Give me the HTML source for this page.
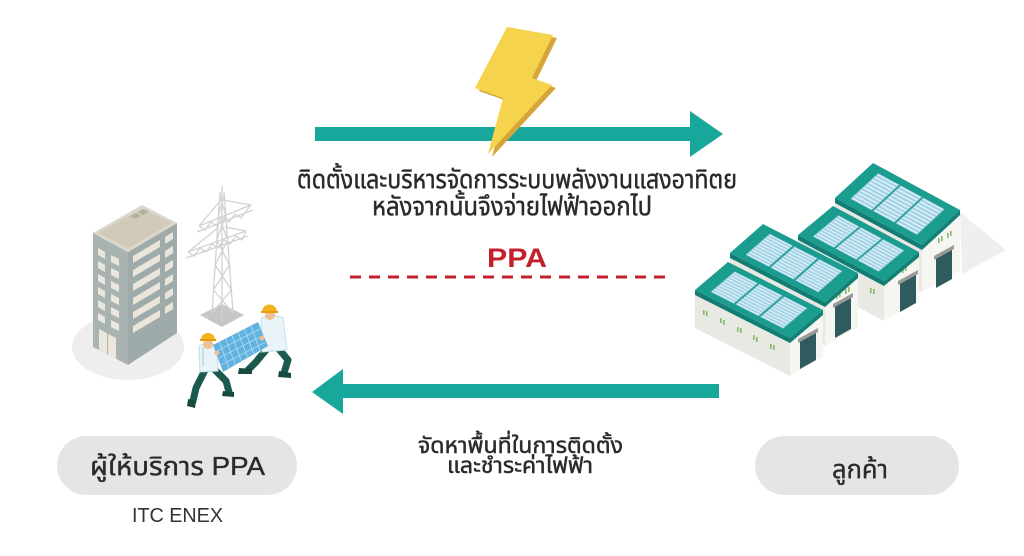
<!DOCTYPE html>
<html>
<head>
<meta charset="utf-8">
<style>
  html,body{margin:0;padding:0;background:#fff;}
  svg{display:block;}
  .th{font-family:"Liberation Sans","Noto Sans Thai","Noto Sans Thai Looped","Loma","Garuda","Waree","Tlwg Typo","DejaVu Sans",sans-serif;fill:#2a2a2a;stroke:#2a2a2a;stroke-width:0.45;}
  .thb{stroke-width:0.35;}
  .lat{font-family:"Liberation Sans",sans-serif;}
</style>
</head>
<body>
<svg width="1024" height="556" viewBox="0 0 1024 556" xmlns="http://www.w3.org/2000/svg">
  <defs>
    <pattern id="pv" patternUnits="userSpaceOnUse" width="1" height="0.075">
      <rect width="1" height="0.075" fill="#a3d3e5"/>
      <rect width="1" height="0.028" fill="#e2f3f9"/>
    </pattern>
  </defs>
  <rect width="1024" height="556" fill="#ffffff"/>

  <!-- ===== TOP ARROW ===== -->
  <rect x="315" y="127" width="377" height="14" fill="#17a89b"/>
  <polygon points="690,111 723,134 690,157" fill="#17a89b"/>

  <!-- Lightning bolt -->
  <polygon points="511,30 557,38 536,81 556,88 492,157 507,101 479,91" fill="#d6a43a"/>
  <polygon points="507,27 553,35 532,78 552,85 488,154 503,98 475,88" fill="#f6d34c"/>

  <!-- Top text -->
  <text class="th" x="297" y="188" font-size="26" textLength="440" lengthAdjust="spacingAndGlyphs">ติดตั้งและบริหารจัดการระบบพลังงานแสงอาทิตย</text>
  <text class="th" x="372" y="215" font-size="26" textLength="280" lengthAdjust="spacingAndGlyphs">หลังจากนั้นจึงจ่ายไฟฟ้าออกไป</text>

  <!-- PPA + dashed -->
  <text class="lat" x="487" y="267" font-size="27" font-weight="bold" fill="#c3202e" textLength="60" lengthAdjust="spacingAndGlyphs">PPA</text>
  <line x1="350" y1="277" x2="672" y2="277" stroke="#c3202e" stroke-width="3" stroke-dasharray="11 8"/>

  <!-- ===== BOTTOM ARROW ===== -->
  <rect x="341" y="384" width="378" height="14" fill="#17a89b"/>
  <polygon points="343,369 312,392 343,414" fill="#17a89b"/>

  <!-- Bottom text -->
  <text class="th" x="418" y="453" font-size="22" textLength="205" lengthAdjust="spacingAndGlyphs">จัดหาพื้นที่ในการติดตั้ง</text>
  <text class="th" x="447" y="473" font-size="22" textLength="146" lengthAdjust="spacingAndGlyphs">และชำระค่าไฟฟ้า</text>

  <!-- Pills -->
  <rect x="57" y="436" width="240" height="59" rx="29.5" fill="#e5e5e5"/>
  <text class="th thb" x="90" y="475" font-size="26" textLength="175" lengthAdjust="spacingAndGlyphs">ผู้ให้บริการ PPA</text>
  <text class="lat" x="132" y="522" font-size="20" fill="#333" textLength="91" lengthAdjust="spacingAndGlyphs">ITC ENEX</text>

  <rect x="755" y="436" width="204" height="59" rx="29.5" fill="#e5e5e5"/>
  <text class="th thb" x="832" y="478" font-size="26" textLength="56" lengthAdjust="spacingAndGlyphs">ลูกค้า</text>

  <!-- ===== LEFT ILLUSTRATION ===== -->
  <ellipse cx="128" cy="347" rx="56" ry="33" fill="#eeeeee"/>

  <!-- building -->
  <polygon points="93,233 128,252 128,365 93,347" fill="#a9b4b2"/>
  <polygon points="128,252 177,223 177,333 128,365" fill="#9fabaa"/>
  <polygon points="93,233 142,205 177,223 128,252" fill="#dcd6c9"/>
  <polygon points="98,233 142,209 172,223 128,248" fill="#d1cabb"/>
  <polygon points="130,216 136,213 141,216 135,219" fill="#b5afa2"/>
  <polygon points="138,212 144,209 149,212 143,215" fill="#b5afa2"/>
  <g fill="#ebe7dc">
    <polygon points="98,248 105,252 105,259 98,255"/>
    <polygon points="98,261 105,265 105,272 98,268"/>
    <polygon points="98,274 105,278 105,285 98,281"/>
    <polygon points="98,287 105,291 105,298 98,294"/>
    <polygon points="98,300 105,304 105,311 98,307"/>
    <polygon points="98,313 105,317 105,324 98,320"/>
    <polygon points="111,255 119,259 119,266 111,262"/>
    <polygon points="111,268 119,272 119,279 111,275"/>
    <polygon points="111,281 119,285 119,292 111,288"/>
    <polygon points="111,294 119,298 119,305 111,301"/>
    <polygon points="111,307 119,311 119,318 111,314"/>
    <polygon points="111,320 119,324 119,331 111,327"/>
    <polygon points="99,329 116,338 116,359 99,350"/>
  </g>
  <line x1="107.5" y1="333" x2="107.5" y2="354" stroke="#a9b4b2" stroke-width="1"/>
  <g fill="#e9e5da">
    <polygon points="133,256 160,240 160,247 133,263"/>
    <polygon points="133,270 160,254 160,261 133,277"/>
    <polygon points="133,284 160,268 160,275 133,291"/>
    <polygon points="133,298 160,282 160,289 133,305"/>
    <polygon points="133,312 160,296 160,303 133,319"/>
    <polygon points="133,326 160,310 160,317 133,333"/>
    <polygon points="165,237 173,232 173,239 165,244"/>
    <polygon points="165,251 173,246 173,253 165,258"/>
    <polygon points="165,265 173,260 173,267 165,272"/>
    <polygon points="165,279 173,274 173,281 165,286"/>
    <polygon points="165,293 173,288 173,295 165,300"/>
    <polygon points="165,307 173,302 173,309 165,314"/>
  </g>

  <!-- tower -->
  <polygon points="200,315 222,304 244,315 222,327" fill="#c6c6c6"/>
  <g stroke="#d2d2d2" stroke-width="1.3" fill="none">
    <line x1="212" y1="313" x2="220" y2="192"/>
    <line x1="233" y1="313" x2="224" y2="192"/>
    <line x1="222" y1="318" x2="222" y2="186"/>
    <polyline points="212,313 231.3,290 215.2,265 227.6,240 218.5,215 224.2,195"/>
    <polyline points="233,313 213.5,290 229.4,265 216.8,240 225.7,215 219.8,195"/>
    <line x1="197" y1="232" x2="253" y2="210"/>
    <line x1="199" y1="226" x2="251" y2="205"/>
    <polyline points="199,226 205,230 211,222 217,226 223,218 229,222 235,214 241,218 247,210 251,205"/>
    <line x1="221" y1="200" x2="199" y2="226"/>
    <line x1="223" y1="200" x2="251" y2="205"/>
    <line x1="186" y1="258" x2="248" y2="236"/>
    <line x1="188" y1="252" x2="246" y2="231"/>
    <polyline points="188,252 194,256 200,248 206,252 212,244 218,248 224,240 230,244 236,236 242,240 246,231"/>
    <line x1="219" y1="227" x2="188" y2="252"/>
    <line x1="225" y1="227" x2="246" y2="231"/>
  </g>

  <!-- worker 2 (right) -->
  <polyline points="266,350 256,362 248,370" stroke="#1c5a4d" stroke-width="7" fill="none" stroke-linecap="round" stroke-linejoin="round"/>
  <path d="M239,368 l13,1 l0,5 l-14,0z" fill="#174a40"/>
  <polyline points="278,348 288,360 284,373" stroke="#1c5a4d" stroke-width="7" fill="none" stroke-linecap="round" stroke-linejoin="round"/>
  <path d="M279,371 l12,2 l0,5 l-13,-1z" fill="#174a40"/>
  <path d="M261,318 Q272,313 283,318 L287,350 L262,352 Z" fill="#e8f4f7" stroke="#c3dfe8" stroke-width="1"/>
  <circle cx="270" cy="315" r="5" fill="#efc095"/>
  <path d="M262,312 A7.5,7.5 0 0 1 277,312 Z" fill="#f4b120"/>
  <rect x="261" y="311" width="17" height="2" fill="#e59d10"/>

  <!-- worker 1 (left) -->
  <polyline points="205,370 196,388 193,401" stroke="#1c5a4d" stroke-width="7" fill="none" stroke-linecap="round" stroke-linejoin="round"/>
  <path d="M188,399 l8,2 l-1,7 l-8,-2z" fill="#174a40"/>
  <polyline points="214,369 226,381 229,392" stroke="#1c5a4d" stroke-width="7" fill="none" stroke-linecap="round" stroke-linejoin="round"/>
  <path d="M223,391 l11,1 l0,5 l-12,-1z" fill="#174a40"/>
  <path d="M199,346 Q208,341 217,346 L218,371 L200,372 Z" fill="#e8f4f7" stroke="#c3dfe8" stroke-width="1"/>
  <line x1="203" y1="347" x2="203" y2="366" stroke="#9cc7d6" stroke-width="1"/>
  <circle cx="208" cy="344" r="5" fill="#efc095"/>
  <path d="M201,340 A7,7 0 0 1 215,340 Z" fill="#f4b120"/>
  <rect x="200" y="339" width="16" height="2" fill="#e59d10"/>

  <!-- solar panel carried -->
  <polygon points="213,345 258,322 268,346 223,372" fill="#62b2e0"/>
  <g transform="matrix(45 -23 10 27 213 345)" stroke="#bfe3f5" stroke-width="0.7">
    <line x1="0.14" y1="0" x2="0.14" y2="1" vector-effect="non-scaling-stroke"/>
    <line x1="0.28" y1="0" x2="0.28" y2="1" vector-effect="non-scaling-stroke"/>
    <line x1="0.42" y1="0" x2="0.42" y2="1" vector-effect="non-scaling-stroke"/>
    <line x1="0.56" y1="0" x2="0.56" y2="1" vector-effect="non-scaling-stroke"/>
    <line x1="0.70" y1="0" x2="0.70" y2="1" vector-effect="non-scaling-stroke"/>
    <line x1="0.84" y1="0" x2="0.84" y2="1" vector-effect="non-scaling-stroke"/>
    <line x1="0" y1="0.25" x2="1" y2="0.25" vector-effect="non-scaling-stroke"/>
    <line x1="0" y1="0.5" x2="1" y2="0.5" vector-effect="non-scaling-stroke"/>
    <line x1="0" y1="0.75" x2="1" y2="0.75" vector-effect="non-scaling-stroke"/>
  </g>
  <circle cx="217" cy="353" r="2.5" fill="#efc095"/>
  <circle cx="262" cy="338" r="2.5" fill="#efc095"/>

  <!-- ===== RIGHT ILLUSTRATION (warehouses) ===== -->
  <polygon points="960,212 1006,250 962,274" fill="#efefef"/>

  <!-- D -->
  <polygon points="835,198 922,245 922,292 835,245" fill="#e9e9e3"/>
  <polygon points="922,245 960,210 960,270 922,292" fill="#f5f5f1"/>
  <polygon points="936,258 952,249 952,279 936,288" fill="#2f5b5f"/>
  <polygon points="934,256 954,245 954,249 934,260" fill="#9a9a96"/>
  <g fill="#86b86a"><rect x="938" y="238" width="1.6" height="5"/><rect x="941" y="236" width="1.6" height="5"/><rect x="947" y="233" width="1.6" height="5"/><rect x="950" y="231" width="1.6" height="5"/></g>
  <polygon points="835,198 922,245 922,250 835,203" fill="#127e73"/>
  <polygon points="922,245 960,210 960,215 922,250" fill="#128074"/>
  <g transform="matrix(87 47 38 -35 835 198)">
    <rect width="1" height="1" fill="#1a9c8e"/>
    <rect x="0.12" y="0.14" width="0.24" height="0.72" fill="url(#pv)" stroke="#82c0d6" stroke-width="0.6" vector-effect="non-scaling-stroke"/>
    <rect x="0.38" y="0.14" width="0.24" height="0.72" fill="url(#pv)" stroke="#82c0d6" stroke-width="0.6" vector-effect="non-scaling-stroke"/>
    <rect x="0.64" y="0.14" width="0.24" height="0.72" fill="url(#pv)" stroke="#82c0d6" stroke-width="0.6" vector-effect="non-scaling-stroke"/>
  </g>

  <!-- C -->
  <polygon points="798,235 884,281 884,321 798,275" fill="#e9e9e3"/>
  <polygon points="884,281 919,252 919,301 884,321" fill="#f5f5f1"/>
  <polygon points="900,283 916,274 916,303 900,312" fill="#2f5b5f"/>
  <polygon points="898,281 918,270 918,274 898,285" fill="#9a9a96"/>
  <g fill="#86b86a"><rect x="870" y="288" width="1.6" height="5"/><rect x="873" y="289" width="1.6" height="5"/><rect x="902" y="268" width="1.6" height="5"/><rect x="905" y="266" width="1.6" height="5"/></g>
  <polygon points="798,235 884,281 884,286 798,240" fill="#127e73"/>
  <polygon points="884,281 919,252 919,257 884,286" fill="#128074"/>
  <g transform="matrix(86 46 35 -29 798 235)">
    <rect width="1" height="1" fill="#1a9c8e"/>
    <rect x="0.12" y="0.14" width="0.24" height="0.72" fill="url(#pv)" stroke="#82c0d6" stroke-width="0.6" vector-effect="non-scaling-stroke"/>
    <rect x="0.38" y="0.14" width="0.24" height="0.72" fill="url(#pv)" stroke="#82c0d6" stroke-width="0.6" vector-effect="non-scaling-stroke"/>
    <rect x="0.64" y="0.14" width="0.24" height="0.72" fill="url(#pv)" stroke="#82c0d6" stroke-width="0.6" vector-effect="non-scaling-stroke"/>
  </g>

  <!-- B -->
  <polygon points="730,253 825,302 825,346 730,297" fill="#e9e9e3"/>
  <polygon points="825,302 858,273 858,327 825,346" fill="#f5f5f1"/>
  <polygon points="835,306 851,297 851,329 835,338" fill="#2f5b5f"/>
  <polygon points="833,304 853,293 853,297 833,308" fill="#9a9a96"/>
  <g fill="#86b86a"><rect x="836" y="294" width="1.6" height="5"/><rect x="839" y="292" width="1.6" height="5"/><rect x="845" y="289" width="1.6" height="5"/><rect x="848" y="287" width="1.6" height="5"/></g>
  <polygon points="730,253 825,302 825,307 730,258" fill="#127e73"/>
  <polygon points="825,302 858,273 858,278 825,307" fill="#128074"/>
  <g transform="matrix(95 49 33 -29 730 253)">
    <rect width="1" height="1" fill="#1a9c8e"/>
    <rect x="0.12" y="0.14" width="0.24" height="0.72" fill="url(#pv)" stroke="#82c0d6" stroke-width="0.6" vector-effect="non-scaling-stroke"/>
    <rect x="0.38" y="0.14" width="0.24" height="0.72" fill="url(#pv)" stroke="#82c0d6" stroke-width="0.6" vector-effect="non-scaling-stroke"/>
    <rect x="0.64" y="0.14" width="0.24" height="0.72" fill="url(#pv)" stroke="#82c0d6" stroke-width="0.6" vector-effect="non-scaling-stroke"/>
  </g>

  <!-- A -->
  <polygon points="695,290 790,338 790,376 695,328" fill="#e9e9e3"/>
  <polygon points="790,338 823,310 823,357 790,376" fill="#f5f5f1"/>
  <polygon points="800,341 816,332 816,360 800,369" fill="#2f5b5f"/>
  <polygon points="798,339 818,328 818,332 798,343" fill="#9a9a96"/>
  <g fill="#86b86a">
    <rect x="703" y="310" width="1.6" height="5"/><rect x="706" y="311" width="1.6" height="5"/>
    <rect x="720" y="318" width="1.6" height="5"/><rect x="723" y="320" width="1.6" height="5"/>
    <rect x="737" y="327" width="1.6" height="5"/><rect x="740" y="328" width="1.6" height="5"/>
    <rect x="753" y="335" width="1.6" height="5"/><rect x="756" y="337" width="1.6" height="5"/>
    <rect x="770" y="344" width="1.6" height="5"/><rect x="773" y="345" width="1.6" height="5"/>
  </g>
  <polygon points="695,290 790,338 790,343 695,295" fill="#127e73"/>
  <polygon points="790,338 823,310 823,315 790,343" fill="#128074"/>
  <g transform="matrix(95 48 33 -28 695 290)">
    <rect width="1" height="1" fill="#1a9c8e"/>
    <rect x="0.12" y="0.14" width="0.24" height="0.72" fill="url(#pv)" stroke="#82c0d6" stroke-width="0.6" vector-effect="non-scaling-stroke"/>
    <rect x="0.38" y="0.14" width="0.24" height="0.72" fill="url(#pv)" stroke="#82c0d6" stroke-width="0.6" vector-effect="non-scaling-stroke"/>
    <rect x="0.64" y="0.14" width="0.24" height="0.72" fill="url(#pv)" stroke="#82c0d6" stroke-width="0.6" vector-effect="non-scaling-stroke"/>
  </g>
</svg>
</body>
</html>
